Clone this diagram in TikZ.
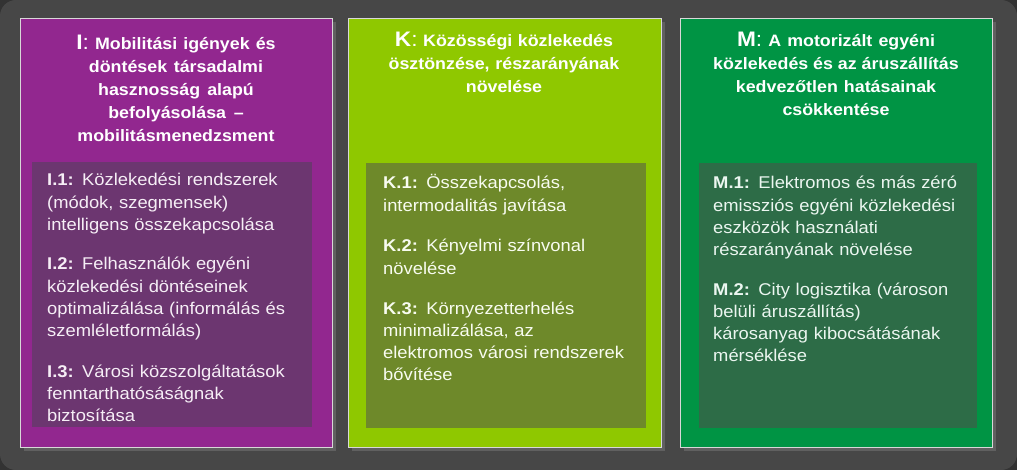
\documentclass[tikz,border=0pt]{standalone}
\usepackage{fontspec}
\setmainfont{Liberation Sans}[FakeStretch=1.08]
\usetikzlibrary{shadows}

\definecolor{bgout}{HTML}{333333}
\definecolor{bgin}{HTML}{474747}
\definecolor{colI}{HTML}{92278F}
\definecolor{subI}{HTML}{6C3670}
\definecolor{colK}{HTML}{8FC800}
\definecolor{subK}{HTML}{6E892A}
\definecolor{colM}{HTML}{009444}
\definecolor{subM}{HTML}{2D6C47}
\definecolor{rimgray}{HTML}{D8D8D8}

\newcommand{\tightwords}{\spaceskip=0.2em plus 0.1em minus 0.05em\relax}
\newcommand{\headkey}[1]{{\fontsize{21}{23}\selectfont\bfseries #1\mdseries:}}

\tikzset{
  column/.style={draw=rimgray, line width=1.2pt, anchor=north west, inner sep=0pt,
    minimum width=312pt, minimum height=429pt,
    drop shadow={shadow xshift=3pt, shadow yshift=-3pt, opacity=0.45}},
  subbox/.style={anchor=north west, inner sep=0pt, minimum height=265pt},
  heading/.style={anchor=base, text width=310pt, align=center, text=white,
    inner sep=0pt, font=\fontsize{16.5}{23}\selectfont\bfseries},
  item/.style={anchor=base west, text width=265pt, align=left, inner sep=0pt,
    font=\fontsize{17}{22.3}\selectfont},
}

\begin{document}
\begin{tikzpicture}[x=1pt, y=-1pt]
    \useasboundingbox (0,0) rectangle (1017,470);

    % Background
    \fill[bgout] (0,0) rectangle (1017,470);
    \fill[bgin, rounded corners=16pt] (0,0) rectangle (1017,470);

    % Columns
    \node[column, fill=colI] (boxI) at (20,18) {};
    \node[column, fill=colK, minimum width=313pt] (boxK) at (348,18) {};
    \node[column, fill=colM] (boxM) at (680,18) {};

    \node[subbox, fill=subI, minimum width=280pt] (innerI) at (32,162) {};
    \node[subbox, fill=subK, minimum width=280pt] (innerK) at (366,163) {};
    \node[subbox, fill=subM, minimum width=278pt] (innerM) at (699,163) {};

    % Headings
    \node[heading] (headI) at (176,50) {\tightwords\headkey{I} Mobilitási igények és\\
        döntések társadalmi\\ hasznosság alapú\\ befolyásolása --\\ mobilitásmenedzsment};
    \node[heading] (headK) at (504,47) {\tightwords\headkey{K} Közösségi közlekedés\\
        ösztönzése, részarányának\\ növelése};
    \node[heading] (headM) at (836,47) {\tightwords\headkey{M} A motorizált egyéni\\
        közlekedés és az áruszállítás\\ kedvezőtlen hatásainak\\ csökkentése};

    % Items
    \node[item, text=white!92!colI] (I1) at (47,186) {\textbf{I.1:} Közlekedési rendszerek\\
        (módok, szegmensek)\\ intelligens összekapcsolása};
    \node[item, text=white!92!colI] (I2) at (47,270) {\textbf{I.2:} Felhasználók egyéni\\
        közlekedési döntéseinek\\ optimalizálása (informálás és\\ szemléletformálás)};
    \node[item, text=white!92!colI] (I3) at (47,377) {\textbf{I.3:} Városi közszolgáltatások\\
        fenntarthatósáságnak\\ biztosítása};

    \node[item, text=white!94!colK] (K1) at (383,189) {\textbf{K.1:} Összekapcsolás,\\
        intermodalitás javítása};
    \node[item, text=white!94!colK] (K2) at (383,252) {\textbf{K.2:} Kényelmi színvonal\\
        növelése};
    \node[item, text=white!94!colK] (K3) at (383,314) {\textbf{K.3:} Környezetterhelés\\
        minimalizálása, az\\ elektromos városi rendszerek\\ bővítése};

    \node[item, text=white!92!colM] (M1) at (713,189) {\textbf{M.1:} Elektromos és más zéró\\
        emissziós egyéni közlekedési\\ eszközök használati\\ részarányának növelése};
    \node[item, text=white!92!colM] (M2) at (713,295) {\textbf{M.2:} City logisztika (városon\\
        belüli áruszállítás)\\ károsanyag kibocsátásának\\ mérséklése};
\end{tikzpicture}
\end{document}
